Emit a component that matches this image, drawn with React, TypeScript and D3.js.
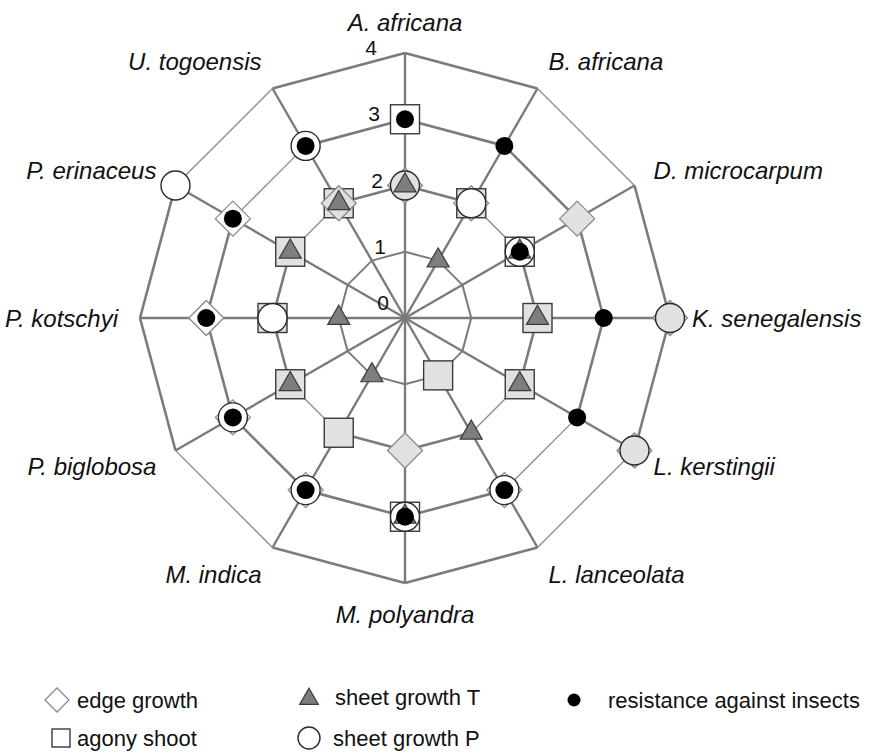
import React from 'react';
import * as d3 from 'd3';

const width = 879;
const height = 754;
const cx = 405;
const cy = 318;

const species = [
    'A. africana', 'B. africana', 'D. microcarpum', 'K. senegalensis',
    'L. kerstingii', 'L. lanceolata', 'M. polyandra', 'M. indica',
    'P. biglobosa', 'P. kotschyi', 'P. erinaceus', 'U. togoensis',
];

const edgeGrowth = [2, 2, 3, 4, 4, 3, 2, 3, 3, 3, 3, 2];
const agonyShoot = [3, 2, 2, 2, 2, 1, 3, 2, 2, 2, 2, 2];
const sheetGrowthT = [2, 1, 2, 2, 2, 2, 3, 1, 2, 1, 2, 2];
const sheetGrowthP = [2, 2, 2, 4, 4, 3, 3, 3, 3, 2, 4, 3];
const resistance = [3, 3, 2, 3, 3, 3, 3, 3, 3, 3, 3, 3];

const levels = [0, 1, 2, 3, 4];

// ring edges (i -> i+1) drawn with the thin pen
const thinEdges: { [k: number]: number[] } = {
    1: [],
    2: [1, 4, 7, 10],
    3: [4, 10],
    4: [1, 4, 7, 10],
};

const GRID = '#7b7b7b';
const LIGHT = '#e1e1e1';

const r = d3.scaleLinear().domain([0, 4]).range([0, 265]);
const angle = d3.scaleLinear().domain([0, species.length]).range([0, 2 * Math.PI]);

const pt = (i: number, v: number): [number, number] => [
    cx + r(v) * Math.sin(angle(i)),
    cy - r(v) * Math.cos(angle(i)),
];

const triPath = d3.symbol(d3.symbolTriangle, 210)() as string;
const legendTri = d3.symbol(d3.symbolTriangle, 150)() as string;

const diamond = (s: number) => `M0,${-s}L${s},0L0,${s}L${-s},0Z`;

const Radar = () => {
    const n = species.length;
    const idx = d3.range(n);

    const rings = levels.filter(l => l > 0).map(l =>
        idx.map(i => {
            const [x1, y1] = pt(i, l);
            const [x2, y2] = pt((i + 1) % n, l);
            const thin = thinEdges[l].includes(i);
            return (
                <line key={`r${l}-${i}`} x1={x1} y1={y1} x2={x2} y2={y2}
                    stroke={thin ? '#8c8c8c' : GRID}
                    strokeWidth={thin ? 1.3 : l === 1 ? 2 : 2.6} />
            );
        })
    );

    const spokes = idx.map(i => {
        const [x, y] = pt(i, 4);
        return <line key={`s${i}`} x1={cx} y1={cy} x2={x} y2={y} stroke={GRID} strokeWidth={2.4} />;
    });

    const labels = idx.map(i => {
        const a = angle(i);
        const s = Math.sin(a);
        const x = cx + 287 * s;
        const y = cy - 296 * Math.cos(a);
        const anchor = s > 0.01 ? 'start' : s < -0.01 ? 'end' : 'middle';
        return (
            <text key={`l${i}`} x={x} y={y} textAnchor={anchor} dominantBaseline="central"
                fontStyle="italic" fontSize={24} fill="#111">
                {species[i]}
            </text>
        );
    });

    const tickLabels = levels.map(v => (
        <text key={`t${v}`} x={cx - 16 - 3 * v} y={cy - r(v) + (v === 0 ? -8 : 2)}
            textAnchor="end" fontSize={21} fill="#111">
            {v}
        </text>
    ));

    const squares = idx.map(i => {
        const [x, y] = pt(i, agonyShoot[i]);
        const fill = resistance[i] === agonyShoot[i] ? '#fff' : LIGHT;
        return <rect key={`q${i}`} x={x - 14.5} y={y - 14.5} width={29} height={29}
            fill={fill} stroke="#3a3a3a" strokeWidth={1.4} />;
    });

    const diamonds = idx.map(i => {
        const [x, y] = pt(i, edgeGrowth[i]);
        const fill = resistance[i] === edgeGrowth[i] ? '#fff' : LIGHT;
        return <path key={`d${i}`} d={diamond(17.5)} transform={`translate(${x},${y})`}
            fill={fill} stroke="#8a8a8a" strokeWidth={1.3} />;
    });

    const circles = idx.map(i => {
        const [x, y] = pt(i, sheetGrowthP[i]);
        const grey = edgeGrowth[i] === sheetGrowthP[i] && resistance[i] !== sheetGrowthP[i]
            && agonyShoot[i] !== sheetGrowthP[i];
        return <circle key={`c${i}`} cx={x} cy={y} r={14.5}
            fill={grey ? LIGHT : '#fff'} stroke="#2a2a2a" strokeWidth={1.4} />;
    });

    const triangles = idx.map(i => {
        const [x, y] = pt(i, sheetGrowthT[i]);
        return <path key={`t${i}`} d={triPath} transform={`translate(${x},${y})`}
            fill="#7e7e7e" stroke="#3a3a3a" strokeWidth={1.2} />;
    });

    const dots = idx.map(i => {
        const [x, y] = pt(i, resistance[i]);
        return <circle key={`b${i}`} cx={x} cy={y} r={9} fill="#000" />;
    });

    return (
        <svg width={width} height={height} style={{ fontFamily: '"Liberation Sans", Arial, sans-serif', display: 'block' }}>
            <rect width={width} height={height} fill="#fff" />
            {spokes}
            {rings}
            {tickLabels}
            {squares}
            {diamonds}
            {circles}
            {triangles}
            {dots}
            {labels}

            <g fontSize={22} fill="#111">
                <path d={diamond(12)} transform="translate(57,700)" fill="#fff" stroke="#8a8a8a" strokeWidth={1.3} />
                <text x={77} y={708}>edge growth</text>
                <rect x={52} y={729} width={18} height={18} fill="#fff" stroke="#3a3a3a" strokeWidth={1.4} />
                <text x={77} y={746}>agony shoot</text>
                <path d={legendTri} transform="translate(309,699)" fill="#7e7e7e" stroke="#3a3a3a" strokeWidth={1.2} />
                <text x={335} y={705}>sheet growth T</text>
                <circle cx={309} cy={738} r={11} fill="#fff" stroke="#2a2a2a" strokeWidth={1.4} />
                <text x={333} y={746}>sheet growth P</text>
                <circle cx={574} cy={700} r={6.5} fill="#000" />
                <text x={608} y={708}>resistance against insects</text>
            </g>
        </svg>
    );
};

const App = () => (
    <div style={{ position: 'absolute', left: 0, top: 0 }}>
        <Radar />
    </div>
);

export default App;
